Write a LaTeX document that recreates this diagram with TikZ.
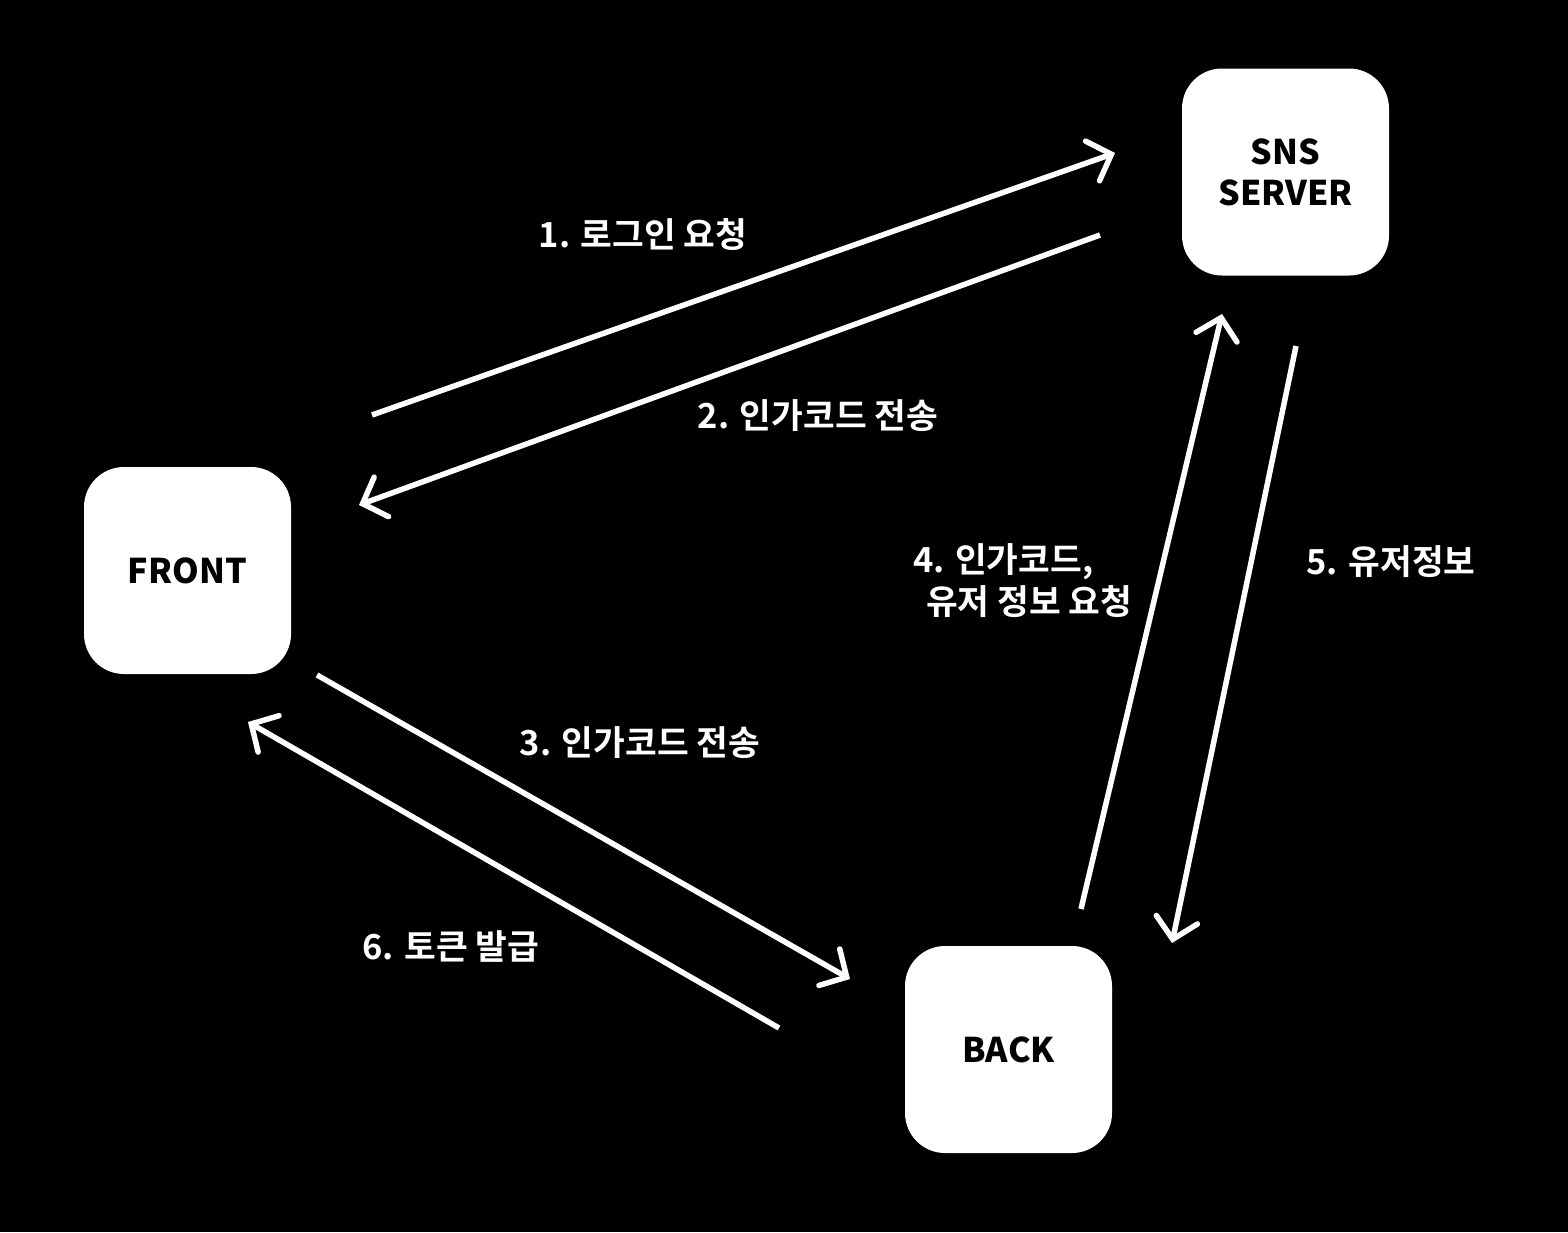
\documentclass[tikz,border=0pt]{standalone}
\usepackage{fontspec}
\usetikzlibrary{arrows.meta}
\newfontfamily\krbold{Noto Sans CJK KR Bold}
\newfontfamily\krblack{Noto Sans CJK KR Black}
\tikzset{
  boxnode/.style={fill=white, rounded corners=40pt, minimum width=207pt, minimum height=207pt, inner sep=0pt, text=black, align=center, font=\krblack\fontsize{34}{41}\selectfont},
  lbl/.style={text=white, inner sep=0pt, font=\krbold\fontsize{34.5}{40}\selectfont},
  flow/.style={draw=white, line width=5.5pt, -{Straight Barb[length=20pt,width=42pt,line cap=round]}}
}
\begin{document}
\begin{tikzpicture}[x=1pt,y=-1pt]
\fill[black] (0,0) rectangle (1568,1232);
\useasboundingbox (0,0) rectangle (1568,1232);
\node[boxnode] (sns) at (1285.5,172) {SNS\\SERVER};
\node[boxnode] (front) at (187.5,570.5) {FRONT};
\node[boxnode] (back) at (1008.5,1049.5) {BACK};
\coordinate (a1s) at (372,415); \coordinate (a1e) at (1115,153);
\coordinate (a2s) at (1100,235); \coordinate (a2e) at (359,505);
\coordinate (a3s) at (317,675); \coordinate (a3e) at (850,979);
\coordinate (a6s) at (779,1028); \coordinate (a6e) at (248,722);
\coordinate (a4s) at (1081,909); \coordinate (a4e) at (1222,314);
\coordinate (a5s) at (1296,346); \coordinate (a5e) at (1172,943);
\draw[flow] (a1s) -- (a1e);
\draw[flow] (a2s) -- (a2e);
\draw[flow] (a3s) -- (a3e);
\draw[flow] (a6s) -- (a6e);
\draw[flow] (a4s) -- (a4e);
\draw[flow] (a5s) -- (a5e);
\node[lbl] (l1) at (643,235) {1. 로그인 요청};
\node[lbl] (l2) at (818,416) {2. 인가코드 전송};
\node[lbl] (l3) at (640,743) {3. 인가코드 전송};
\node[lbl] (l6) at (451,946) {6. 토큰 발급};
\node[lbl,anchor=west] (l4a) at (913,562) {4. 인가코드,};
\node[lbl,anchor=west] (l4b) at (926,602) {유저 정보 요청};
\node[lbl] (l5) at (1391,562) {5. 유저정보};
\end{tikzpicture}
\end{document}
